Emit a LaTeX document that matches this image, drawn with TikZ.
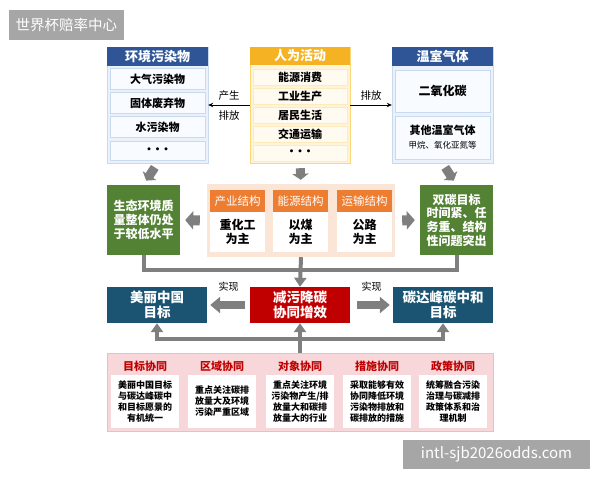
\documentclass[tikz,border=0pt]{standalone}
\usepackage{fontspec}
\setmainfont{Noto Sans CJK SC}
\usetikzlibrary{arrows.meta,positioning}
\definecolor{hblue}{HTML}{2F5597}
\definecolor{bpale}{HTML}{EAF1FA}
\definecolor{bline}{HTML}{C9DAF0}
\definecolor{bitem}{HTML}{F8FBFF}
\definecolor{hyel}{HTML}{F5B324}
\definecolor{ypale}{HTML}{FFF4D9}
\definecolor{yline}{HTML}{FBD778}
\definecolor{yitem}{HTML}{FFFBF0}
\definecolor{ggreen}{HTML}{548235}
\definecolor{horg}{HTML}{ED7D31}
\definecolor{opale}{HTML}{FBE5D6}
\definecolor{tealb}{HTML}{1B5472}
\definecolor{redb}{HTML}{C00000}
\definecolor{ppale}{HTML}{F8D7DA}
\definecolor{pline}{HTML}{F0BCC1}
\definecolor{arrg}{HTML}{7F7F7F}
\definecolor{wmg}{HTML}{A6A6A6}
\newcommand{\tdots}{•\kern-2.5pt•\kern-2.5pt•}
\tikzset{
  >=Stealth,
  sz/.style 2 args={minimum width=#1, minimum height=#2},
  pnl/.style={rectangle, inner sep=0pt},
  hdr/.style={rectangle, inner sep=0pt, text=white, font=\fontsize{13}{15}\selectfont\bfseries},
  itm/.style={rectangle, draw, line width=0.5pt, inner sep=0pt, align=center, font=\fontsize{11}{13}\selectfont\bfseries},
  gbx/.style={rectangle, fill=ggreen, text=white, inner sep=0pt, align=center, font=\fontsize{12}{13.7}\selectfont\bfseries},
  tbx/.style={rectangle, text=white, inner sep=0pt, align=center, font=\fontsize{13.5}{15}\selectfont\bfseries},
  ohd/.style={rectangle, fill=horg, text=white, inner sep=0pt, font=\fontsize{11.5}{13}\selectfont},
  wbx/.style={rectangle, fill=white, inner sep=0pt, align=center, font=\fontsize{12}{14}\selectfont\bfseries},
  ptl/.style={text=redb, inner sep=0pt, font=\fontsize{11}{13}\selectfont\bfseries},
  pbx/.style={rectangle, fill=white, inner sep=0pt, align=center, sz={68}{53}, font=\fontsize{9}{11}\selectfont\bfseries},
  wm/.style={rectangle, fill=wmg, text=white, inner sep=0pt},
  tr/.style={-{Stealth[length=5pt,width=4.5pt]}, line width=0.8pt},
  lbl/.style={font=\fontsize{10.5}{12}\selectfont},
  fatd/.style={arrg, line width=9pt, -{Triangle[length=6pt,width=16pt]}},
  fath/.style={arrg, line width=10pt, -{Triangle[length=8pt,width=18pt]}},
  fatr/.style={arrg, line width=8pt, -{Triangle[length=10pt,width=16pt]}},
  conn/.style={arrg, line width=4pt},
  cn/.tip={Triangle[length=9pt,width=12pt]}
}
\begin{document}
\begin{tikzpicture}[x=1pt, y=-1pt]
    \useasboundingbox (0,0) rectangle (600,480);

    % watermark boxes
    \node[wm, sz={115}{30}, font=\fontsize{14.5}{16}\selectfont] (wm1) at (66.5,25) {世界杯赔率中心};
    \node[wm, sz={187}{29}, font=\fontsize{15}{17}\selectfont] (wm2) at (496.5,454.5) {intl-sjb2026odds.com};

    % TOP LEFT: pollutants
    \node[pnl, fill=bpale, draw=bline, sz={101}{116}] (envp) at (157.5,105) {};
    \node[hdr, fill=hblue, sz={101}{19}] (envh) at (157.5,56.5) {环境污染物};
    \node[itm, fill=bitem, draw=bline, sz={95}{21}] (env1) at (157.5,79) {大气污染物};
    \node[itm, fill=bitem, draw=bline, sz={95}{21}] (env2) at (157.5,103) {固体废弃物};
    \node[itm, fill=bitem, draw=bline, sz={95}{21}] (env3) at (157.5,127) {水污染物};
    \node[itm, fill=bitem, draw=bline, sz={95}{19}] (env4) at (157.5,150.5) {\tdots};

    % TOP MIDDLE: human activity
    \node[pnl, fill=ypale, draw=yline, sz={100}{116}] (ap) at (300,105) {};
    \node[hdr, fill=hyel, sz={100}{18}] (ah) at (300,56) {人为活动};
    \node[itm, fill=yitem, draw=yline!50, sz={94}{16}] (a1) at (300,77) {能源消费};
    \node[itm, fill=yitem, draw=yline!50, sz={94}{16}] (a2) at (300,96) {工业生产};
    \node[itm, fill=yitem, draw=yline!50, sz={94}{16}] (a3) at (300,115) {居民生活};
    \node[itm, fill=yitem, draw=yline!50, sz={94}{16}] (a4) at (300,134) {交通运输};
    \node[itm, fill=yitem, draw=yline!50, sz={94}{16}] (a5) at (300,153) {\tdots};

    % TOP RIGHT: greenhouse gases
    \node[pnl, fill=bpale, draw=bline, sz={101}{116}] (ghg) at (442.5,105) {};
    \node[hdr, fill=hblue, sz={101}{19}] (gh) at (442.5,56.5) {温室气体};
    \node[itm, fill=bitem, draw=bline, sz={95}{42}, font=\fontsize{12}{14}\selectfont\bfseries] (g1) at (442.5,91) {二氧化碳};
    \node[itm, fill=bitem, draw=bline, sz={95}{43}] (g2) at (442.5,137.5) {其他温室气体\\[1pt]{\fontsize{8.5}{10}\selectfont\mdseries 甲烷、氧化亚氮等}};

    \draw[tr] (ap.west) -- (envp.east |- ap.west)
        node[midway, above=1pt, lbl] {产生} node[midway, below=2pt, lbl] {排放};
    \draw[tr] (ap.east) -- (ghg.west |- ap.east) node[midway, above=1pt, lbl] {排放};

    % MIDDLE ROW: situation
    \node[gbx, sz={73}{70}] (gl) at (143.5,220) {生态环境质\\量整体仍处\\于较低水平};
    \node[gbx, sz={73}{70}] (gr) at (456.5,220) {双碳目标\\时间紧、任\\务重、结构\\性问题突出};

    \node[pnl, fill=opale, sz={188}{73}] (op) at (301,220.5) {};
    \node[ohd, sz={55}{22}] (oh1) at (237.5,201) {产业结构};
    \node[ohd, sz={55}{22}] (oh2) at (300.5,201) {能源结构};
    \node[ohd, sz={55}{22}] (oh3) at (364.5,201) {运输结构};
    \node[wbx, sz={55}{40}] (ob1) at (237.5,232) {重化工\\为主};
    \node[wbx, sz={55}{40}] (ob2) at (300.5,232) {以煤\\为主};
    \node[wbx, sz={55}{40}] (ob3) at (364.5,232) {公路\\为主};

    \draw[fatd, shorten <=5pt, shorten >=5pt] (envp.south) -- (gl.north);
    \draw[fatd, shorten <=5pt, shorten >=4pt] (ap.south) -- (op.north);
    \draw[fatd, shorten <=5pt, shorten >=5pt] (ghg.south) -- (gr.north);
    \draw[fath, shorten <=7pt, shorten >=5pt] (op.west) -- (gl.east);
    \draw[fath, shorten <=7pt, shorten >=5pt] (op.east) -- (gr.west);

    % GOALS ROW
    \node[tbx, fill=tealb, sz={100}{36}] (mg) at (157,305) {美丽中国\\目标};
    \node[tbx, fill=redb, sz={100}{36}] (red) at (300,305) {减污降碳\\协同增效};
    \node[tbx, fill=tealb, sz={100}{36}] (cg) at (443,305) {碳达峰碳中和\\目标};

    \coordinate (jt) at (300,270);
    \draw[conn] (gl.south) |- (jt) -| (gr.south);
    \draw[conn, -cn] (op.south) -- (red.north);

    \draw[fatr, shorten <=5pt, shorten >=3pt] (red.west) -- node[above=6pt, lbl, text=black, font=\fontsize{10}{12}\selectfont] {实现} (mg.east);
    \draw[fatr, shorten <=7pt, shorten >=3pt] (red.east) -- node[above=6pt, lbl, text=black, font=\fontsize{10}{12}\selectfont] {实现} (cg.west);

    % BOTTOM: five kinds of synergy
    \node[pnl, fill=ppale, draw=pline, sz={386}{78}] (bp) at (300,392) {};
    \node[ptl] (t1) at (145,366) {目标协同};
    \node[ptl] (t2) at (222,366) {区域协同};
    \node[ptl] (t3) at (300,366) {对象协同};
    \node[ptl] (t4) at (377,366) {措施协同};
    \node[ptl] (t5) at (453,366) {政策协同};
    \node[pbx] (b1) at (145,401.5) {美丽中国目标\\与碳达峰碳中\\和目标愿景的\\有机统一};
    \node[pbx] (b2) at (222,401.5) {重点关注碳排\\放量大及环境\\污染严重区域};
    \node[pbx] (b3) at (300,401.5) {重点关注环境\\污染物产生/排\\放量大和碳排\\放量大的行业};
    \node[pbx] (b4) at (377,401.5) {采取能够有效\\协同降低环境\\污染物排放和\\碳排放的措施};
    \node[pbx] (b5) at (453,401.5) {统筹融合污染\\治理与碳减排\\政策体系和治\\理机制};

    \coordinate (jb) at (300,339);
    \draw[conn, cn-cn] (mg.south) |- (jb) -| (cg.south);
    \draw[conn, -cn] (bp.north) -- (red.south);
\end{tikzpicture}
\end{document}
